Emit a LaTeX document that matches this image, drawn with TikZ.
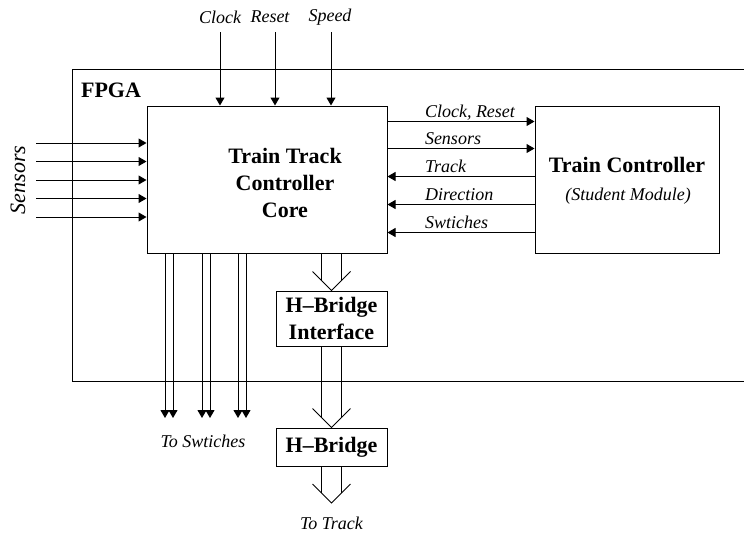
\documentclass[tikz,border=0pt]{standalone}
\usepackage{fontspec}
\setmainfont{Liberation Serif}
\usetikzlibrary{positioning,calc,arrows.meta}

\begin{document}
\begin{tikzpicture}[
    x=1pt,y=-1pt,
    line width=1pt,
    every node/.style={inner sep=0pt},
    box/.style={rectangle,draw,line width=1pt},
    title/.style={align=center,font=\fontsize{22}{27}\selectfont\bfseries},
    sig/.style={font=\fontsize{18}{22}\selectfont\itshape},
    arrow/.style={-{Triangle[length=8pt,width=9pt]}},
  ]
  \useasboundingbox (0,0) rectangle (744,533);
  % FPGA boundary, open to the right
  \draw (744,69) -| (72,381) -- (744,381);
  \node[title] (fpga) at (111,90) {FPGA};
  \node[box,minimum width=240pt,minimum height=147pt] (core) at (267,179.5) {};
  \node[title] (coretxt) at ($(core.center)+(18,3)$) {Train Track\\Controller\\Core};
  \node[box,minimum width=184pt,minimum height=147pt,right=147pt of core] (tc) {};
  \node[title] (tcname) at ($(tc.center)+(0,-14.5)$) {Train Controller};
  \node[sig] (tcsub) at ($(tc.center)+(1,16.5)$) {(Student Module)};
  \node[box,title,minimum width=111pt,minimum height=55pt] (hbi) at (331.5,318.5) {H--Bridge\\Interface};
  \node[box,title,minimum width=111pt,minimum height=38pt] (hb) at (331.5,447) {H--Bridge};
  % top inputs
  \coordinate (clk) at (220,32);
  \coordinate (rst) at (275,32);
  \coordinate (spd) at (331,32);
  \node[sig] (lclk) at (220,17) {Clock};
  \node[sig] (lrst) at (270,17) {Reset};
  \node[sig] (lspd) at (330,17) {Speed};
  \draw[arrow] (clk) -- (clk |- core.north);
  \draw[arrow] (rst) -- (rst |- core.north);
  \draw[arrow] (spd) -- (spd |- core.north);
  % sensor inputs
  \node[rotate=90,font=\fontsize{22}{26}\selectfont\itshape] (lsens) at (18,180) {Sensors};
  \coordinate (s1) at (36,143);
  \coordinate (s2) at (36,161.5);
  \coordinate (s3) at (36,180);
  \coordinate (s4) at (36,198.5);
  \coordinate (s5) at (36,217);
  \draw[arrow] (s1) -- (s1 -| core.west);
  \draw[arrow] (s2) -- (s2 -| core.west);
  \draw[arrow] (s3) -- (s3 -| core.west);
  \draw[arrow] (s4) -- (s4 -| core.west);
  \draw[arrow] (s5) -- (s5 -| core.west);
  % core <-> train controller
  \coordinate (ck) at ($(core.north east)+(0,16)$);
  \coordinate (sn) at ($(core.north east)+(0,43)$);
  \coordinate (tr) at ($(core.north east)+(0,71)$);
  \coordinate (dr) at ($(core.north east)+(0,99)$);
  \coordinate (sw) at ($(core.north east)+(0,127)$);
  \draw[arrow] (ck) -- (ck -| tc.west);
  \draw[arrow] (sn) -- (sn -| tc.west);
  \draw[arrow] (tr -| tc.west) -- (tr);
  \draw[arrow] (dr -| tc.west) -- (dr);
  \draw[arrow] (sw -| tc.west) -- (sw);
  \node[sig,anchor=base west] (lck) at ($(ck)+(37,-4.5)$) {Clock, Reset};
  \node[sig,anchor=base west] (lsn) at ($(sn)+(37,-4.5)$) {Sensors};
  \node[sig,anchor=base west] (ltr) at ($(tr)+(37,-4.5)$) {Track};
  \node[sig,anchor=base west] (ldr) at ($(dr)+(37,-4.5)$) {Direction};
  \node[sig,anchor=base west] (lsw) at ($(sw)+(37,-4.5)$) {Swtiches};
  % switch outputs
  \coordinate (w1) at (165,418);
  \coordinate (w2) at (173,418);
  \coordinate (w3) at (202,418);
  \coordinate (w4) at (210,418);
  \coordinate (w5) at (238,418);
  \coordinate (w6) at (246,418);
  \draw[arrow] (w1 |- core.south) -- (w1);
  \draw[arrow] (w2 |- core.south) -- (w2);
  \draw[arrow] (w3 |- core.south) -- (w3);
  \draw[arrow] (w4 |- core.south) -- (w4);
  \draw[arrow] (w5 |- core.south) -- (w5);
  \draw[arrow] (w6 |- core.south) -- (w6);
  \node[sig] (lsws) at (203,441) {To Swtiches};
  % bus arrows to the track
  \coordinate (t1) at (hbi.north);
  \draw (t1) ++(-19,-19) -- (t1) -- ++(19,-19);
  \draw ($(t1 |- core.south)+(-10,0)$) -- ($(t1)+(-10,-10)$);
  \draw ($(t1 |- core.south)+(10,0)$) -- ($(t1)+(10,-10)$);
  \coordinate (t2) at (hb.north);
  \draw (t2) ++(-19,-19) -- (t2) -- ++(19,-19);
  \draw ($(t2 |- hbi.south)+(-10,0)$) -- ($(t2)+(-10,-10)$);
  \draw ($(t2 |- hbi.south)+(10,0)$) -- ($(t2)+(10,-10)$);
  \coordinate (t3) at (331.5,503);
  \draw (t3) ++(-19,-19) -- (t3) -- ++(19,-19);
  \draw ($(t3 |- hb.south)+(-10,0)$) -- ($(t3)+(-10,-10)$);
  \draw ($(t3 |- hb.south)+(10,0)$) -- ($(t3)+(10,-10)$);
  \node[sig] (ltrk) at (331.5,523) {To Track};
\end{tikzpicture}
\end{document}
